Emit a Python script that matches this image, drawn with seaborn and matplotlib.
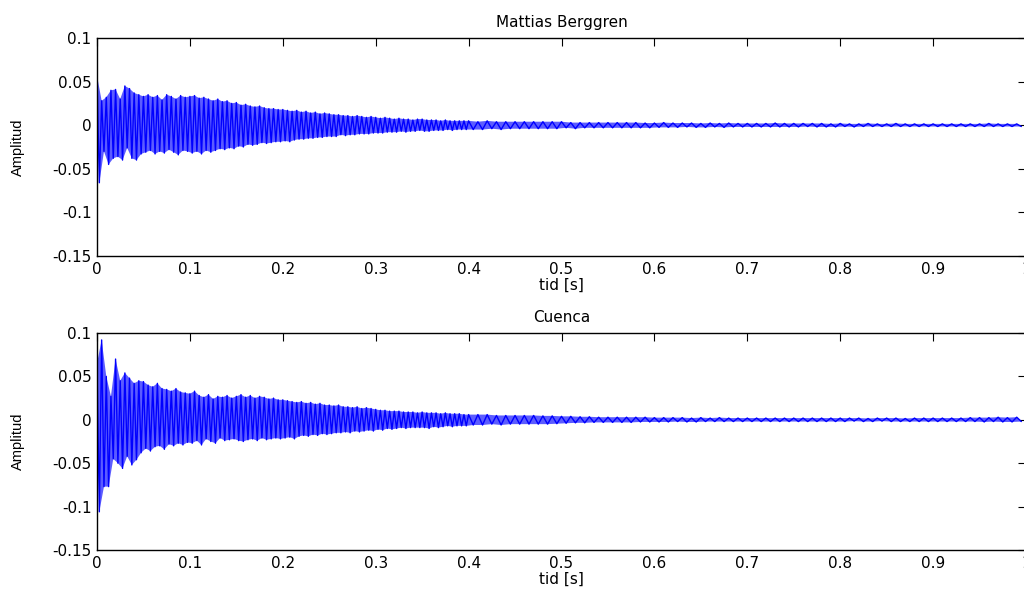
import numpy as np
import pandas as pd
import matplotlib
matplotlib.use("Agg")
import matplotlib.pyplot as plt
import seaborn as sns

# ---- data (peak amplitudes, units of 1e-3) ----
# first segment sampled every 0.0025 s from 0 to 0.3975 s,
# second segment every 0.005 s from 0.4 to 0.995 s
titles = ["Mattias Berggren", "Cuenca"]

berggren_early = [
    57, -66, 28, -30, 32, -45, 40, -38, 41, -36, 30, -40, 45, -26, 42, -38, 37, -40, 35, -33,
    33, -31, 35, -29, 32, -33, 34, -30, 29, -32, 35, -28, 33, -31, 30, -34, 34, -29, 32, -30,
    33, -32, 34, -30, 31, -33, 32, -29, 30, -31, 28, -29, 30, -27, 27, -28, 28, -26, 25, -27,
    26, -24, 23, -25, 24, -22, 22, -23, 21, -22, 22, -20, 20, -21, 19, -20, 19, -19, 18, -19,
    18, -18, 17, -19, 16, -17, 17, -16, 15, -16, 16, -15, 14, -15, 15, -14, 13, -14, 14, -13,
    13, -13, 12, -13, 12, -11, 11, -12, 11, -11, 10, -11, 11, -10, 10, -10, 9, -10, 10, -9,
    9, -9, 8, -9, 9, -8, 8, -8, 7, -8, 8, -7, 7, -8, 7, -7, 6, -7, 7, -6,
    7, -7, 6, -7, 6, -6, 6, -6, 5, -6, 6, -5, 5, -6, 5, -5, 5, -5, 5, -5,
]
berggren_late = [
    5, -5, 4, -5, 5, -4, 4, -5, 4, -4, 4, -4, 4, -4, 4, -4, 4, -4, 4, -4,
    4, -3, 3, -4, 3, -3, 3, -3, 3, -3, 3, -3, 3, -3, 3, -3, 3, -3, 2.5, -3,
    2.5, -2.5, 3, -2.5, 2.5, -2.5, 2.5, -2, 2.5, -2.5, 2, -2.5, 2.5, -2, 2, -2.5, 2.5, -2, 2, -2,
    2, -2, 2, -2, 2, -2, 2.5, -2, 2, -2, 2, -2, 2, -1.5, 2, -2, 2, -2, 1.5, -2,
    2, -1.5, 1.5, -2, 1.5, -1.5, 2, -1.5, 1.5, -1.5, 1.5, -1.5, 2, -1.5, 1.5, -1.5, 1.5, -1.5, 1.5, -1.5,
    1.5, -1.5, 1.5, -1.5, 1.5, -1.5, 1.5, -1.5, 1.5, -1.5, 1.5, -1.5, 2, -1.5, 1.5, -1.5, 1.5, -1.5, 1.5, -1.5,
]

cuenca_early = [
    65, -106, 92, -77, 50, -77, 27, -45, 70, -50, 45, -56, 54, -42, 48, -52, 42, -46, 45, -38,
    44, -33, 40, -36, 38, -31, 42, -30, 36, -34, 35, -28, 33, -30, 36, -27, 32, -29, 31, -26,
    30, -27, 33, -24, 28, -29, 26, -22, 29, -25, 24, -27, 27, -21, 26, -24, 28, -23, 25, -22,
    27, -24, 29, -25, 26, -23, 28, -22, 25, -24, 27, -21, 26, -23, 24, -22, 25, -21, 23, -22,
    23, -21, 22, -20, 21, -22, 20, -19, 21, -18, 19, -19, 20, -17, 18, -18, 19, -16, 17, -17,
    17, -16, 16, -15, 17, -15, 15, -14, 15, -15, 14, -13, 15, -14, 13, -13, 14, -12, 13, -13,
    12, -11, 11, -12, 11, -10, 10, -11, 10, -10, 10, -9, 9, -10, 9, -9, 9, -9, 8, -9,
    9, -9, 8, -10, 8, -8, 8, -9, 7, -8, 8, -7, 7, -8, 7, -7, 7, -7, 6, -7,
]
cuenca_late = [
    6, -6, 6, -6, 6, -5, 5, -6, 5, -5, 5, -5, 5, -5, 5, -5, 4.5, -5, 4.5, -4.5,
    4, -4, 4, -3.5, 3.5, -3.5, 3.5, -3, 3, -3, 3, -3, 3, -3, 3, -3, 3, -2.5, 3, -2.5,
    2.5, -2.5, 2.5, -2.5, 2.5, -2, 2.5, -2.5, 2, -2.5, 2.5, -2, 2, -2, 2.5, -2, 2, -2, 2, -2,
    2, -2, 2, -2, 2, -2, 2, -2, 2, -2, 2, -2, 2, -2, 2, -2, 2, -2, 2, -2,
    2, -2, 2, -1.5, 2, -2, 1.5, -2, 2, -1.5, 2, -2, 2, -2, 1.5, -2, 2, -2, 2, -2,
    2, -2, 2, -2, 2, -2, 2, -2, 2.5, -2, 2.5, -2.5, 2.5, -2, 3, -2.5, 2.5, -2.5, 3, -2,
]

xticks = [0, 0.1, 0.2, 0.3, 0.4, 0.5, 0.6, 0.7, 0.8, 0.9, 1.0]
xticklabels = ["0", "0.1", "0.2", "0.3", "0.4", "0.5", "0.6", "0.7", "0.8", "0.9", "1"]
yticks = [0.1, 0.05, 0, -0.05, -0.1, -0.15]
yticklabels = ["0.1", "0.05", "0", "-0.05", "-0.1", "-0.15"]

# ---- build frames ----
def make_frame(early, late):
    t1 = np.arange(len(early)) * 0.0025
    t2 = 0.4 + np.arange(len(late)) * 0.005
    t = np.concatenate([t1, t2])
    a = np.concatenate([np.asarray(early, float), np.asarray(late, float)]) * 1e-3
    return pd.DataFrame({"tid": t, "amp": a})

frames = [make_frame(berggren_early, berggren_late),
          make_frame(cuenca_early, cuenca_late)]

sns.set_style("white")
plt.rcParams["font.family"] = ["DejaVu Sans"]
plt.rcParams["axes.unicode_minus"] = False
for k in ["text.color", "axes.labelcolor", "xtick.color", "ytick.color"]:
    plt.rcParams[k] = "black"

fig = plt.figure(figsize=(10.24, 5.9), dpi=100)
W, H = 1024, 590
left = 97 / W
width = 929 / W
ax_top = fig.add_axes([left, 1 - 256 / H, width, (256 - 38) / H])
ax_bot = fig.add_axes([left, 1 - 550 / H, width, (550 - 333) / H])

for ax, df, title in zip([ax_top, ax_bot], frames, titles):
    # dense band between positive and negative peaks
    pos = df[df["amp"] >= 0]
    neg = df[df["amp"] < 0]
    poly_x = np.concatenate([pos["tid"].values, neg["tid"].values[::-1]])
    poly_y = np.concatenate([pos["amp"].values, neg["amp"].values[::-1]])
    ax.fill(poly_x, poly_y, color="#5c5cff", linewidth=0, zorder=1)
    sns.lineplot(data=df, x="tid", y="amp", ax=ax, color="#0000ff",
                 linewidth=1.0, sort=False, estimator=None, zorder=2)
    ax.set_xlim(0, 1)
    ax.set_ylim(-0.15, 0.1)
    ax.set_xticks(xticks)
    ax.set_xticklabels(xticklabels, fontsize=11)
    ax.set_yticks(yticks)
    ax.set_yticklabels(yticklabels, fontsize=11)
    ax.tick_params(direction="in", top=True, right=True, length=6, width=0.8,
                   color="black", pad=4)
    for s in ax.spines.values():
        s.set_color("black")
        s.set_linewidth(1.0)
    ax.set_title(title, fontsize=11, pad=8)
    ax.set_xlabel("tid [s]", fontsize=11, labelpad=1)
    ax.set_ylabel("Amplitud", fontsize=10.5, family=["Liberation Sans", "DejaVu Sans"])
    ax.yaxis.set_label_coords(-0.078, 0.5)
    ax.grid(False)

fig.savefig("out.png", dpi=100, facecolor="white")
